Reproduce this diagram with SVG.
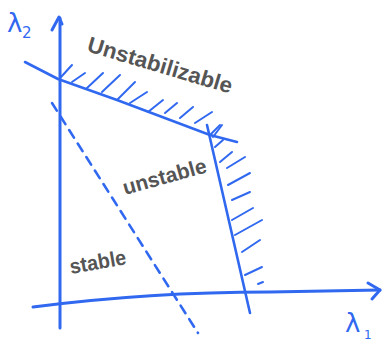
<svg xmlns="http://www.w3.org/2000/svg" width="385" height="341" viewBox="0 0 385 341">
<style>
.ln{fill:none;stroke:#3068f0;stroke-linecap:round;stroke-linejoin:round}
.ax{stroke-width:3}
.bd{stroke-width:2.6}
.ht{stroke-width:2}
.lbl{font-family:"Liberation Sans",Arial,sans-serif;fill:#555555;font-weight:bold}
.sym{font-family:"DejaVu Sans",sans-serif;fill:#3068f0}
</style>
<rect width="385" height="341" fill="#ffffff"/>
<g id="axes">
<path class="ln ax" d="M60,328 L60,18"/>
<path class="ln ax" d="M52,30 L59,17 L62,24"/>
<path class="ln ax" d="M33,307 Q150,292 270,292 L380,290"/>
<path class="ln ax" d="M368,283 L380,290 L372,299"/>
<text class="sym" x="7" y="32" font-size="26">λ</text>
<text class="sym" x="22" y="38" font-size="15">2</text>
<text class="sym" x="345" y="332" font-size="26">λ</text>
<text class="sym" x="364" y="339" font-size="12">1</text>
</g>
<g id="boundaries">
<path class="ln bd" d="M25,62 L58,79 L117,100 L210,135 L237,142"/>
<path class="ln bd" d="M207,125 L250,313"/>
<path class="ln bd" d="M52,103 L198,333" stroke-dasharray="9,7"/>
</g>
<g id="hatching" class="ln ht">
<path d="M61,77 L72,65"/>
<path d="M72,82 L85,73"/>
<path d="M87,88 L103,73"/>
<path d="M102,92 L120,75"/>
<path d="M117,100 L135,82"/>
<path d="M130,103 L147,92"/>
<path d="M148,112 L163,100"/>
<path d="M165,113 L177,103"/>
<path d="M180,118 L193,107"/>
<path d="M195,123 L212,112"/>
<path d="M210,135 L220,125"/>
<path d="M213,137 L222,125"/>
<path d="M215,147 L223,140"/>
<path d="M220,162 L232,152"/>
<path d="M227,168 L245,157"/>
<path d="M228,185 L250,173"/>
<path d="M232,200 L250,192"/>
<path d="M232,220 L253,208"/>
<path d="M235,235 L262,220"/>
<path d="M242,252 L260,240"/>
<path d="M245,275 L262,267"/>
<path d="M258,284 L263,282"/>
</g>
<g id="labels">
<text class="lbl" font-size="22" transform="translate(86,51) rotate(16.5)" textLength="150" lengthAdjust="spacingAndGlyphs">Unstabilizable</text>
<text class="lbl" font-size="21" transform="translate(125,195) rotate(-15.5)" textLength="86" lengthAdjust="spacingAndGlyphs">unstable</text>
<text class="lbl" font-size="21" transform="translate(71,274) rotate(-10)" textLength="57" lengthAdjust="spacingAndGlyphs">stable</text>
</g>
</svg>
